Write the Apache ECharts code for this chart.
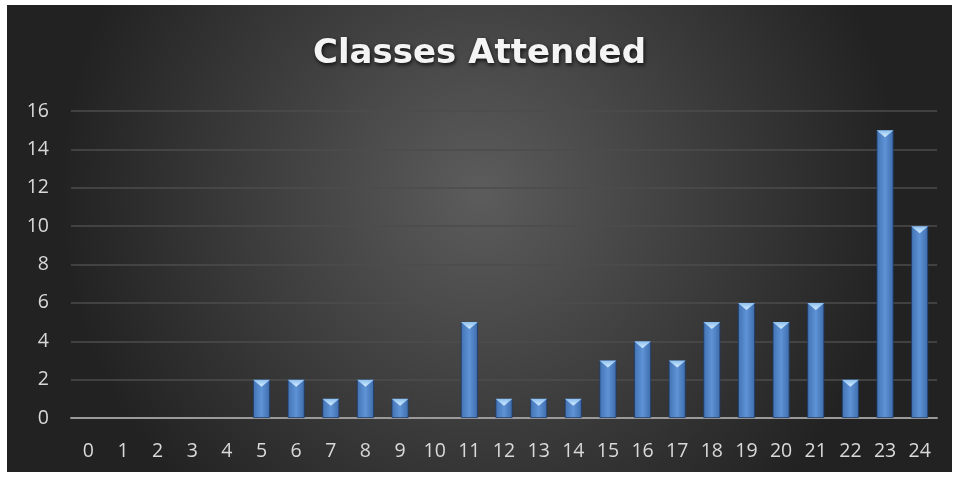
<!DOCTYPE html>
<html><head><meta charset="utf-8">
<script src="https://cdn.jsdelivr.net/npm/echarts@6/dist/echarts.min.js"></script>
<style>
html,body{margin:0;padding:0;background:#fff;width:959px;height:477px;overflow:hidden}
#c{position:absolute;left:7px;top:5px;width:945px;height:467px}
</style></head>
<body><div id="c"></div>
<script>
const categories = ['0','1','2','3','4','5','6','7','8','9','10','11','12','13','14','15','16','17','18','19','20','21','22','23','24'];
const values = [0,0,0,0,0,2,2,1,2,1,0,5,1,1,1,3,4,3,5,6,5,6,2,15,10];
const yTicks = {min:0, max:16, interval:2};

const chart = echarts.init(document.getElementById('c'));
chart.setOption({
  animation:false,
  backgroundColor:{type:'radial',x:0.5,y:0.4,r:0.9,colorStops:[{offset:0,color:'#5c5c5c'},{offset:1,color:'#222222'}]},
  title:{text:'Classes Attended',left:'center',top:27,textStyle:{color:'#f4f4f4',fontFamily:'DejaVu Sans',fontWeight:'bold',fontSize:34,textShadowColor:'rgba(0,0,0,0.8)',textShadowBlur:4,textShadowOffsetX:1,textShadowOffsetY:2}},
  grid:{left:64,right:15,top:106,bottom:54,containLabel:false},
  xAxis:{type:'category',data:categories,axisLine:{lineStyle:{color:'#9a9a9a',width:2}},axisTick:{show:false},
    axisLabel:{color:'#d9d9d9',fontSize:19.5,fontFamily:'Open Sans',margin:23}},
  yAxis:{type:'value',min:yTicks.min,max:yTicks.max,interval:yTicks.interval,
    axisLabel:{color:'#d9d9d9',fontSize:19.5,fontFamily:'Open Sans',margin:22},
    splitLine:{lineStyle:{color:'#4d4d4d',width:1.5}}},
  series:[
    {type:'bar',data:values.map(v=>v===0?'-':v),barWidth:17,z:2,
     itemStyle:{borderColor:'#1d3a66',borderWidth:0.8,color:{type:'linear',x:0,y:0,x2:1,y2:0,colorStops:[{offset:0,color:'#4272b2'},{offset:0.5,color:'#5e93d6'},{offset:1,color:'#3d6baa'}]}}},
    {type:'pictorialBar',data:values.map(v=>v===0?'-':v),symbol:'triangle',symbolRotate:180,symbolPosition:'end',
     symbolSize:[17,7],symbolOffset:[0,0],z:3,
     itemStyle:{color:{type:'linear',x:0,y:0,x2:0,y2:1,colorStops:[{offset:0,color:'#d6ecff'},{offset:1,color:'#8cc0f0'}]}}}
  ]
});
</script></body></html>
